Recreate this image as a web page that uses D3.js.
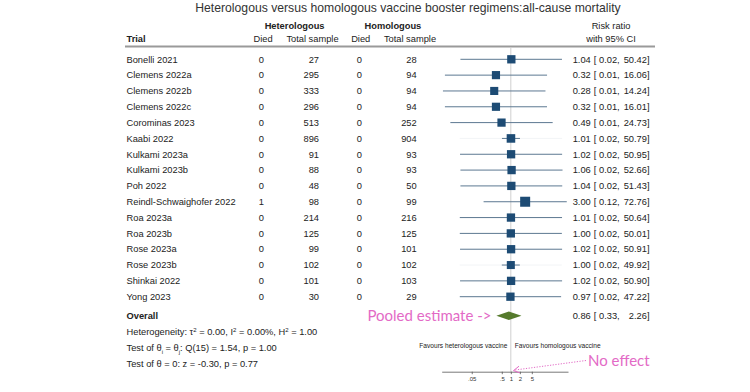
<!DOCTYPE html>
<html lang="en">
<head>
  <meta charset="UTF-8">
  <title>Heterologous versus homologous vaccine booster regimens</title>
  <style>
    body { margin: 0; background: #fff; }
    svg { display: block; font-family: "Liberation Sans", Arial, sans-serif; }
    .cell { font-size: 9.3px; fill: #222; }
    .head { font-size: 9.3px; fill: #222; }
    .note { font-family: Lato, "Open Sans", sans-serif; fill: #e36ac6; font-size: 15px; }
    .axis text { font-size: 6px; fill: #333; font-family: "Liberation Sans", Arial, sans-serif; }
    .axis path, .axis line { stroke: #555; stroke-width: 0.8px; }
  </style>
</head>
<body>
  <script src="https://cdn.jsdelivr.net/npm/d3@7"></script>
  <script>
    const trials = ["Bonelli 2021", "Clemens 2022a", "Clemens 2022b", "Clemens 2022c", "Corominas 2023",
      "Kaabi 2022", "Kulkami 2023a", "Kulkami 2023b", "Poh 2022", "Reindl-Schwaighofer 2022",
      "Roa 2023a", "Roa 2023b", "Rose 2023a", "Rose 2023b", "Shinkai 2022", "Yong 2023"];
    const hetDied = [0, 0, 0, 0, 0, 0, 0, 0, 0, 1, 0, 0, 0, 0, 0, 0];
    const hetTotal = [27, 295, 333, 296, 513, 896, 91, 88, 48, 98, 214, 125, 99, 102, 101, 30];
    const homDied = [0, 0, 0, 0, 0, 0, 0, 0, 0, 0, 0, 0, 0, 0, 0, 0];
    const homTotal = [28, 94, 94, 94, 252, 904, 93, 93, 50, 99, 216, 125, 101, 102, 103, 29];
    const riskRatio = [1.04, 0.32, 0.28, 0.32, 0.49, 1.01, 1.02, 1.06, 1.04, 3.00, 1.01, 1.00, 1.02, 1.00, 1.02, 0.97];
    const ciLow = [0.021, 0.0064, 0.0055, 0.0064, 0.0097, 0.02, 0.0204, 0.021, 0.021, 0.124, 0.02, 0.02, 0.0204, 0.02, 0.0204, 0.02];
    const ciHigh = [50.42, 16.06, 14.24, 16.01, 24.73, 50.79, 50.95, 52.66, 51.43, 72.76, 50.64, 50.01, 50.91, 49.92, 50.90, 47.22];
    // weights only used for square size
    const weights = [6.2, 6.0, 5.9, 6.0, 6.1, 6.6, 6.2, 6.2, 6.2, 9.0, 6.2, 6.2, 6.2, 5.8, 6.2, 6.2];
    // these two CI lines are almost invisible in the picture
    const faintCI = ["Kaabi 2022", "Rose 2023b"];

    const pooled = { rr: 0.86, lo: 0.33, hi: 2.26 };
    const tickValues = [0.05, 0.5, 1, 2, 5];
    const tickLabels = [".05", ".5", "1", "2", "5"];
    const statLines = [
      [["Heterogeneity: τ", ""], ["2", "sup"], [" = 0.00, I", ""], ["2", "sup"], [" = 0.00%, H", ""], ["2", "sup"], [" = 1.00", ""]],
      [["Test of θ", ""], ["i", "sub"], [" = θ", ""], ["j", "sub"], [": Q(15) = 1.54, p = 1.00", ""]],
      [["Test of θ = 0: z = -0.30, p = 0.77", ""]]
    ];

    const width = 750, height = 392;
    const svg = d3.select("body").append("svg").attr("width", width).attr("height", height);

    const x = d3.scaleLog().domain([0.005, 80]).range([441.7, 568]);
    const y = d3.scalePoint().domain(trials).range([59.3, 296.7]);
    const side = d3.scaleSqrt().domain([0, 9]).range([0, 10]);
    const f2 = d3.format(".2f");

    const col = { trial: 126.5, hetDied: 261.3, hetTotal: 319, homDied: 359.3, homTotal: 416.7, ci: 572.7, ciLo: 593.8, ciHi: 649.5 };

    // title + headers
    svg.append("text").attr("x", 408).attr("y", 12).attr("text-anchor", "middle")
      .attr("font-size", 12.2).attr("fill", "#333")
      .text("Heterologous versus homologous vaccine booster regimens:all-cause mortality");

    const head = [
      { t: "Heterologous", x: 294.6, y: 28.5, bold: true },
      { t: "Homologous", x: 392.9, y: 28.5, bold: true },
      { t: "Risk ratio", x: 611, y: 28.5 },
      { t: "Trial", x: col.trial, y: 42, bold: true, anchor: "start" },
      { t: "Died", x: 263, y: 42 },
      { t: "Total sample", x: 312.5, y: 42 },
      { t: "Died", x: 360.7, y: 42 },
      { t: "Total sample", x: 410, y: 42 },
      { t: "with 95% CI", x: 611, y: 42 }
    ];
    svg.append("g").selectAll("text").data(head).join("text")
      .attr("class", "head")
      .attr("x", d => d.x).attr("y", d => d.y)
      .attr("text-anchor", d => d.anchor || "middle")
      .attr("font-weight", d => d.bold ? "bold" : null)
      .text(d => d.t);

    svg.append("line").attr("x1", 125).attr("x2", 655).attr("y1", 46.5).attr("y2", 46.5)
      .attr("stroke", "#9a9a9a").attr("stroke-width", 2);

    // line of no effect
    svg.append("line").attr("x1", x(1)).attr("x2", x(1)).attr("y1", 47.5).attr("y2", 371.7)
      .attr("stroke", "#cfcfcf").attr("stroke-width", 1);

    // table rows
    const rows = svg.append("g").selectAll("g").data(trials).join("g")
      .attr("transform", d => `translate(0,${y(d)})`);
    const cell = (xp, anchor, fn) => rows.append("text").attr("class", "cell")
      .attr("x", xp).attr("dy", "0.35em").attr("text-anchor", anchor).text(fn);
    cell(col.trial, "start", d => d);
    cell(col.hetDied, "middle", (d, i) => hetDied[i]);
    cell(col.hetTotal, "end", (d, i) => hetTotal[i]);
    cell(col.homDied, "middle", (d, i) => homDied[i]);
    cell(col.homTotal, "end", (d, i) => homTotal[i]);
    cell(col.ci, "start", (d, i) => f2(riskRatio[i]));
    cell(col.ciLo, "start", (d, i) => "[ " + f2(ciLow[i]) + ",");
    cell(col.ciHi, "end", (d, i) => f2(ciHigh[i]) + "]");

    // CI lines and squares
    rows.append("line")
      .attr("x1", (d, i) => x(ciLow[i])).attr("x2", (d, i) => x(ciHigh[i]))
      .attr("stroke", "#5c7891").attr("stroke-width", 1)
      .attr("stroke-opacity", d => faintCI.includes(d) ? 0.08 : 1);
    rows.filter(d => faintCI.includes(d)).append("line")
      .attr("x1", d => x(riskRatio[trials.indexOf(d)]) - 9)
      .attr("x2", d => x(riskRatio[trials.indexOf(d)]) + 9)
      .attr("stroke", "#5c7891").attr("stroke-width", 1);
    rows.append("rect")
      .attr("x", (d, i) => x(riskRatio[i]) - side(weights[i]) / 2)
      .attr("y", (d, i) => -side(weights[i]) / 2)
      .attr("width", (d, i) => side(weights[i]))
      .attr("height", (d, i) => side(weights[i]))
      .attr("fill", "#1d4b74");

    // overall
    const yo = 315.8;
    svg.append("text").attr("class", "cell").attr("x", col.trial).attr("y", yo).attr("dy", "0.35em")
      .attr("font-weight", "bold").text("Overall");
    svg.append("path")
      .attr("d", `M${x(pooled.lo)},${yo}L${x(pooled.rr)},${yo - 4.2}L${x(pooled.hi)},${yo}L${x(pooled.rr)},${yo + 4.2}Z`)
      .attr("fill", "#557a2c");
    svg.append("text").attr("class", "cell").attr("x", col.ci).attr("y", yo).attr("dy", "0.35em").text(f2(pooled.rr));
    svg.append("text").attr("class", "cell").attr("x", col.ciLo).attr("y", yo).attr("dy", "0.35em").text("[ " + f2(pooled.lo) + ",");
    svg.append("text").attr("class", "cell").attr("x", col.ciHi).attr("y", yo).attr("dy", "0.35em")
      .attr("text-anchor", "end").text(f2(pooled.hi) + "]");

    // heterogeneity / tests
    statLines.forEach((parts, k) => {
      const t = svg.append("text").attr("class", "cell").attr("x", col.trial).attr("y", 332.2 + k * 15.8).attr("dy", "0.35em");
      parts.forEach(([s, kind]) => {
        const sp = t.append("tspan").text(s);
        if (kind === "sup") sp.attr("font-size", 6).attr("baseline-shift", "super");
        if (kind === "sub") sp.attr("font-size", 6).attr("baseline-shift", "sub");
      });
    });

    // favours labels
    svg.append("text").attr("x", x(1) - 3.5).attr("y", 345.7).attr("dy", "0.35em").attr("text-anchor", "end")
      .attr("font-size", 6.6).attr("fill", "#222").text("Favours heterologous vaccine");
    svg.append("text").attr("x", x(1) + 4).attr("y", 345.7).attr("dy", "0.35em")
      .attr("font-size", 6.6).attr("fill", "#222").text("Favours homologous vaccine");

    // axis
    svg.append("g").attr("class", "axis").attr("transform", "translate(0,371.7)")
      .call(d3.axisBottom(x).tickValues(tickValues).tickSize(2.5).tickSizeOuter(0)
        .tickFormat((d, i) => tickLabels[i]));

    // annotations
    svg.append("text").attr("class", "note").attr("x", 491.5).attr("y", yo).attr("dy", "0.35em")
      .attr("text-anchor", "end").text("Pooled estimate ->");
    svg.append("text").attr("class", "note").attr("x", 588).attr("y", 360.5).attr("dy", "0.35em")
      .text("No effect");
    svg.append("line").attr("x1", 586).attr("y1", 360.5).attr("x2", 515).attr("y2", 370)
      .attr("stroke", "#e36ac6").attr("stroke-width", 1).attr("stroke-dasharray", "1.2,1.5");
    svg.append("path").attr("d", "M519,366.2L513.5,370.6L519.8,372.8")
      .attr("fill", "none").attr("stroke", "#e36ac6").attr("stroke-width", 1);

    // model note, cut at the bottom edge as in the source image
    svg.append("text").attr("class", "cell").attr("x", 123).attr("y", 398.5).attr("font-size", 8.5)
      .text("Random-effects DerSimonian–Laird model");
  </script>
</body>
</html>
